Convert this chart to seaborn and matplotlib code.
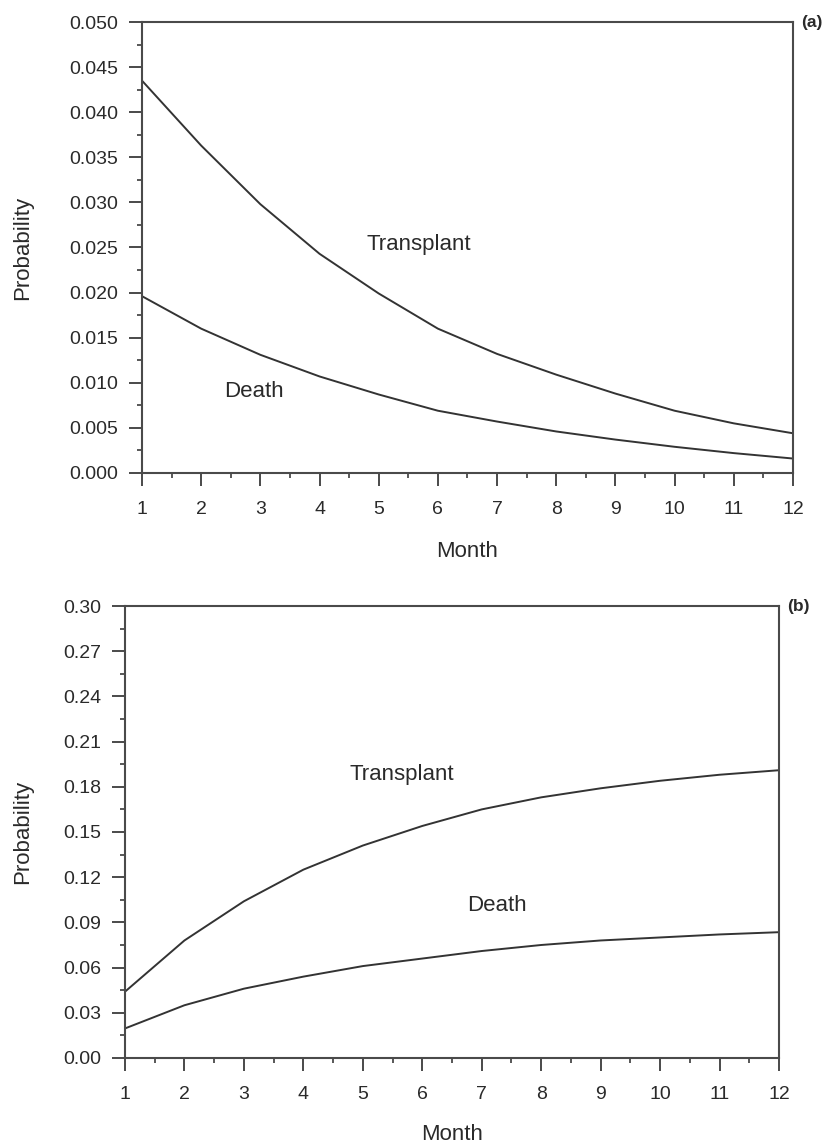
import matplotlib
matplotlib.use("Agg")
import matplotlib.pyplot as plt
import seaborn as sns
import pandas as pd
from matplotlib.ticker import MultipleLocator, FormatStrFormatter

sns.set_style("ticks")
plt.rcParams['font.family'] = ['Liberation Sans', 'DejaVu Sans']

months = [1, 2, 3, 4, 5, 6, 7, 8, 9, 10, 11, 12]

# Panel (a): monthly probabilities
a_transplant = [0.0435, 0.0363, 0.0298, 0.0243, 0.0199, 0.0160, 0.0132, 0.0109, 0.0088, 0.0069, 0.0055, 0.0044]
a_death = [0.0196, 0.0160, 0.0131, 0.0107, 0.0087, 0.0069, 0.0057, 0.0046, 0.0037, 0.0029, 0.0022, 0.0016]

# Panel (b): cumulative probabilities
b_transplant = [0.044, 0.078, 0.104, 0.125, 0.141, 0.154, 0.165, 0.173, 0.179, 0.184, 0.188, 0.191]
b_death = [0.0196, 0.035, 0.046, 0.054, 0.061, 0.066, 0.071, 0.075, 0.078, 0.080, 0.082, 0.0835]

panel_a_labels = {"Transplant": (5.67, 0.0253), "Death": (2.9, 0.0090)}
panel_b_labels = {"Transplant": (5.65, 0.188), "Death": (7.26, 0.101)}

LINE = "#333333"
AXC = "#4a4a4a"
TXT = "#2a2a2a"

fig = plt.figure(figsize=(8.26, 11.46), dpi=100)
ax_a = fig.add_axes([0.1719, 0.5873, 0.7881, 0.3935])
ax_b = fig.add_axes([0.1513, 0.0768, 0.7918, 0.3944])


def draw(ax, trans, death, labels, ymax, ystep, fmt, tag, ylab_x, xlab_y):
    df = pd.DataFrame({"Month": months * 2,
                       "Probability": trans + death,
                       "Series": ["Transplant"] * 12 + ["Death"] * 12})
    sns.lineplot(data=df, x="Month", y="Probability", units="Series",
                 estimator=None, color=LINE, lw=1.4, ax=ax, legend=False)
    ax.set_xlim(1, 12)
    ax.set_ylim(0, ymax)
    ax.xaxis.set_major_locator(MultipleLocator(1))
    ax.xaxis.set_minor_locator(MultipleLocator(0.5))
    ax.yaxis.set_major_locator(MultipleLocator(ystep))
    ax.yaxis.set_minor_locator(MultipleLocator(ystep / 2))
    ax.yaxis.set_major_formatter(FormatStrFormatter(fmt))
    for s in ax.spines.values():
        s.set_visible(True)
        s.set_color(AXC)
        s.set_linewidth(1.5)
    ax.tick_params(axis="both", which="major", length=9.5, width=1.4,
                   color=AXC, labelsize=14, labelcolor=TXT, direction="out")
    ax.tick_params(axis="both", which="minor", length=3.8, width=1.3,
                   color=AXC, direction="out")
    ax.tick_params(axis="x", which="major", pad=11)
    ax.tick_params(axis="y", which="major", pad=7.5)
    ax.set_xlabel("Month", fontsize=16, color=TXT)
    ax.set_ylabel("Probability", fontsize=16, color=TXT)
    ax.yaxis.set_label_coords(ylab_x, 0.5)
    ax.xaxis.set_label_coords(0.5, xlab_y)
    for name, (x, y) in labels.items():
        ax.text(x, y, name, fontsize=16, color=TXT, ha="center", va="center")
    ax.text(1.013, 1.0, tag, transform=ax.transAxes, fontsize=12.5,
            fontweight="bold", color=TXT, ha="left", va="center")


draw(ax_a, a_transplant, a_death, panel_a_labels, 0.050, 0.005, "%.3f", "(a)", -0.168, -0.152)
draw(ax_b, b_transplant, b_death, panel_b_labels, 0.30, 0.03, "%.2f", "(b)", -0.141, -0.145)

fig.savefig("out.png", dpi=100, facecolor="white")
